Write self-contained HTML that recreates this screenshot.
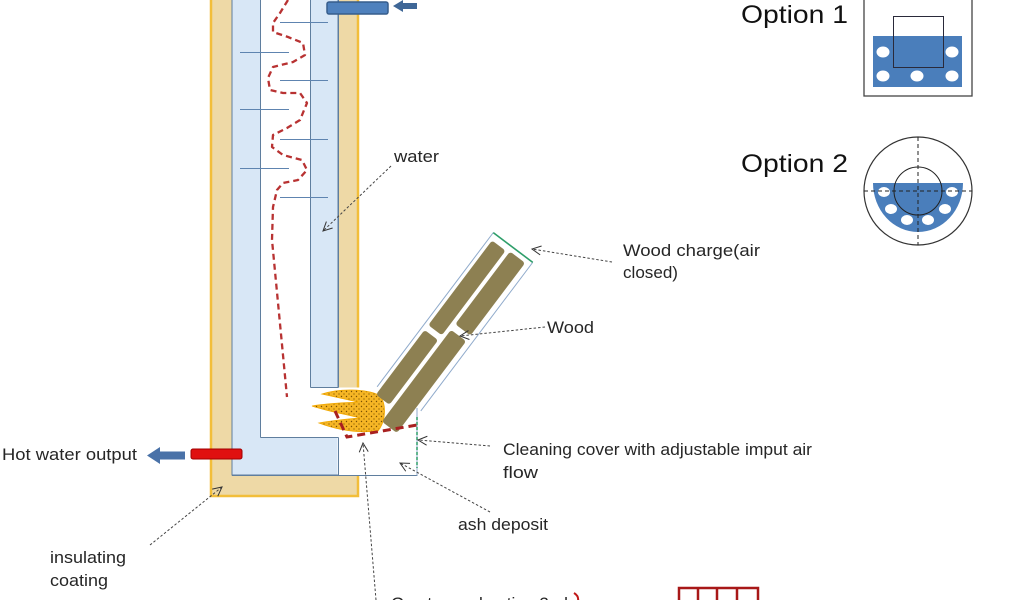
<!DOCTYPE html>
<html>
<head>
<meta charset="utf-8">
<style>
html,body{margin:0;padding:0;background:#fff;}
body{width:1024px;height:600px;overflow:hidden;}
svg{display:block;}
text{font-family:"Liberation Sans",sans-serif;fill:#262626;}
</style>
</head>
<body>
<svg width="1024" height="600" viewBox="0 0 1024 600" xmlns="http://www.w3.org/2000/svg">
<defs>
  <pattern id="dots" width="5" height="5" patternUnits="userSpaceOnUse">
    <rect width="5" height="5" fill="#F6B625"/>
    <circle cx="1.5" cy="1.5" r="0.7" fill="#7a5000"/>
    <circle cx="4" cy="4" r="0.6" fill="#7a5000"/>
  </pattern>
  <marker id="ah" markerWidth="12" markerHeight="12" refX="10" refY="6" orient="auto" markerUnits="userSpaceOnUse">
    <path d="M1,1.5 L10,6 L1,10.5" fill="none" stroke="#333" stroke-width="1"/>
  </marker>
</defs>

<!-- insulating coating -->
<rect x="211" y="-5" width="147" height="501" fill="#EED9A6" stroke="#F2BE3A" stroke-width="2.5"/>
<!-- water -->
<rect x="232" y="-5" width="106" height="480" fill="#D8E7F6" stroke="#5F7E9E" stroke-width="1"/>
<!-- white cut at chamber (right side of insulation) -->
<rect x="337.5" y="387.5" width="22" height="87" fill="#fff"/>
<!-- inner flue channel -->
<rect x="260" y="-5" width="50" height="442" fill="#fff"/>
<!-- chamber & ash box -->
<rect x="310" y="387.5" width="107" height="50" fill="#fff"/>
<rect x="338" y="436" width="79" height="39" fill="#fff"/>
<!-- wall lines -->
<g stroke="#5F7E9E" stroke-width="1" fill="none">
  <line x1="260.5" y1="-5" x2="260.5" y2="437.5"/>
  <line x1="260.5" y1="437.5" x2="338.5" y2="437.5"/>
  <line x1="338.5" y1="437.5" x2="338.5" y2="475.5"/>
  <line x1="232" y1="475.5" x2="417.5" y2="475.5"/>
  <line x1="310.5" y1="-5" x2="310.5" y2="387.5"/>
  <line x1="310.5" y1="387.5" x2="338.5" y2="387.5"/>
  <line x1="338.5" y1="-5" x2="338.5" y2="387.5"/>
</g>
<line x1="417" y1="408" x2="417" y2="475.5" stroke="#8FAACB" stroke-width="1"/>
<line x1="417" y1="417" x2="417" y2="468" stroke="#2E9E6A" stroke-width="1.5" stroke-dasharray="3,2"/>

<!-- baffles -->
<g stroke="#5E84B0" stroke-width="1">
  <line x1="280" y1="22.5" x2="328" y2="22.5"/>
  <line x1="280" y1="80.5" x2="328" y2="80.5"/>
  <line x1="280" y1="139.5" x2="328" y2="139.5"/>
  <line x1="280" y1="197.5" x2="328" y2="197.5"/>
  <line x1="240" y1="52.5" x2="289" y2="52.5"/>
  <line x1="240" y1="109.5" x2="289" y2="109.5"/>
  <line x1="240" y1="168.5" x2="289" y2="168.5"/>
</g>

<!-- red wavy flue gas path -->
<polyline points="288,0 280,13 273,23 273,32 288,37 303,43 305,55 293,62 273,67 268,78 270,90 283,93 300,93 307,103 300,120 287,128 273,135 272,147 283,155 302,160 307,170 298,180 283,183 277,190 273,207 272,240 287,397" fill="none" stroke="#B83232" stroke-width="2.3" stroke-dasharray="6,4" stroke-linejoin="round"/>

<!-- cold water input pipe -->
<rect x="327" y="2" width="61" height="12" rx="2" fill="#4F81BD" stroke="#375D8C" stroke-width="1.5"/>
<path d="M393,6 L403,0 L403,3 L417,3 L417,9 L403,9 L403,12 Z" fill="#3F6797"/>

<!-- hot water output -->
<rect x="191" y="449" width="51" height="10" rx="2" fill="#E01010" stroke="#A00000" stroke-width="1"/>
<path d="M147,455.5 L160,447 L160,451.5 L185,451.5 L185,459.5 L160,459.5 L160,464 Z" fill="#4A72A8"/>

<!-- fire -->
<path d="M322,394 C340,388 366,389 379,395 C387,403 386,421 378,431 C360,433 340,431 319,423 C335,420 348,419 360,418 C345,414 330,412 312,406 C330,403 345,403 358,402 C345,399 335,397 322,394 Z" fill="url(#dots)" stroke="#F2A800" stroke-width="0.8"/>

<!-- wood charge tube -->
<g transform="translate(513,247.5) rotate(127)">
  <line x1="0" y1="24.7" x2="193" y2="24.7" stroke="#8FAACB" stroke-width="1"/>
  <line x1="0" y1="-24.7" x2="186" y2="-24.7" stroke="#8FAACB" stroke-width="1"/>
  <line x1="0" y1="-24.7" x2="0" y2="24.7" stroke="#2E9E6A" stroke-width="1.6"/>
  <g fill="#8D8052">
    <rect x="7" y="4" width="106" height="17" rx="3"/>
    <rect x="119" y="4" width="81" height="17" rx="3"/>
    <rect x="5" y="-19" width="91" height="19" rx="3"/>
    <rect x="103" y="-19" width="115" height="19" rx="3"/>
  </g>
</g>

<!-- grate red dashed -->
<polyline points="335,411 347,437 417,425" fill="none" stroke="#A82020" stroke-width="3" stroke-dasharray="8,5"/>

<!-- connectors -->
<g stroke="#444" stroke-width="1" stroke-dasharray="2.5,2" fill="none" marker-end="url(#ah)">
  <line x1="391" y1="166" x2="323" y2="231"/>
  <line x1="612" y1="262" x2="532" y2="249"/>
  <line x1="545" y1="327" x2="460" y2="336"/>
  <line x1="490" y1="446" x2="418" y2="440"/>
  <line x1="490" y1="512" x2="400" y2="463"/>
  <line x1="150" y1="545" x2="222" y2="487"/>
  <line x1="376" y1="600" x2="363" y2="443"/>
</g>

<!-- labels -->
<g font-size="16.5">
  <text x="394" y="162" textLength="45" lengthAdjust="spacingAndGlyphs">water</text>
  <text x="623" y="256" textLength="137" lengthAdjust="spacingAndGlyphs">Wood  charge(air</text>
  <text x="623" y="278" textLength="55" lengthAdjust="spacingAndGlyphs">closed)</text>
  <text x="547" y="333" textLength="47" lengthAdjust="spacingAndGlyphs">Wood</text>
  <text x="503" y="455" textLength="309" lengthAdjust="spacingAndGlyphs">Cleaning cover with adjustable imput air</text>
  <text x="503" y="478" textLength="35" lengthAdjust="spacingAndGlyphs">flow</text>
  <text x="458" y="530" textLength="90" lengthAdjust="spacingAndGlyphs">ash deposit</text>
  <text x="2" y="460" textLength="135" lengthAdjust="spacingAndGlyphs">Hot water output</text>
  <text x="50" y="563" textLength="76" lengthAdjust="spacingAndGlyphs">insulating</text>
  <text x="50" y="586" textLength="58" lengthAdjust="spacingAndGlyphs">coating</text>
  <text x="391" y="609" textLength="177" lengthAdjust="spacingAndGlyphs">Gas to combustion 2nd</text>
</g>
<path d="M574,593 Q579,596 578,601" fill="none" stroke="#C01818" stroke-width="2"/>

<!-- red grid bottom -->
<g stroke="#A81818" stroke-width="2.5" fill="none">
  <rect x="679" y="588" width="79" height="20"/>
  <line x1="698" y1="588" x2="698" y2="600"/>
  <line x1="717" y1="588" x2="717" y2="600"/>
  <line x1="737" y1="588" x2="737" y2="600"/>
</g>

<!-- Option 1 -->
<text x="741" y="23" font-size="25" textLength="107" lengthAdjust="spacingAndGlyphs" style="fill:#111">Option 1</text>
<rect x="864" y="-2" width="108" height="98" fill="#fff" stroke="#444" stroke-width="1.3"/>
<rect x="873" y="36" width="89" height="51" fill="#4A7EBB"/>
<rect x="893.5" y="16.5" width="50" height="51" fill="none" stroke="#2a2a3a" stroke-width="1"/>
<g fill="#fff">
  <ellipse cx="883" cy="52" rx="6.5" ry="5.5"/>
  <ellipse cx="952" cy="52" rx="6.5" ry="5.5"/>
  <ellipse cx="883" cy="76" rx="6.5" ry="5.5"/>
  <ellipse cx="917" cy="76" rx="6.5" ry="5.5"/>
  <ellipse cx="952" cy="76" rx="6.5" ry="5.5"/>
</g>

<!-- Option 2 -->
<text x="741" y="172" font-size="25" textLength="107" lengthAdjust="spacingAndGlyphs" style="fill:#111">Option 2</text>
<circle cx="918" cy="191" r="54" fill="#fff" stroke="#333" stroke-width="1.2"/>
<path d="M873,183 L963,183 A45,49 0 0 1 873,183 Z" fill="#4A7EBB"/>
<circle cx="918" cy="191" r="24" fill="none" stroke="#222" stroke-width="1"/>
<g fill="#fff">
  <ellipse cx="884" cy="192" rx="6" ry="5"/>
  <ellipse cx="952" cy="192" rx="6" ry="5"/>
  <ellipse cx="891" cy="209" rx="6" ry="5"/>
  <ellipse cx="945" cy="209" rx="6" ry="5"/>
  <ellipse cx="907" cy="220" rx="6" ry="5"/>
  <ellipse cx="928" cy="220" rx="6" ry="5"/>
</g>
<g stroke="#222" stroke-width="1" stroke-dasharray="4,3">
  <line x1="918" y1="137" x2="918" y2="245"/>
  <line x1="864" y1="191" x2="972" y2="191"/>
</g>
</svg>
</body>
</html>
